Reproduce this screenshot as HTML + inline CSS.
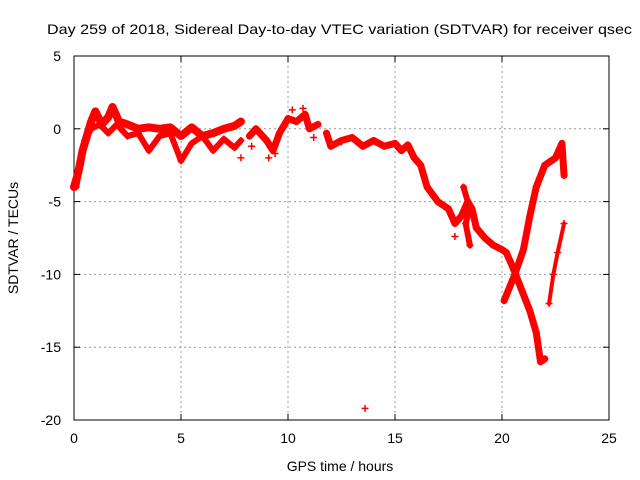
<!DOCTYPE html>
<html><head><meta charset="utf-8"><style>
body{margin:0;background:#fff}
svg{display:block;font-family:"Liberation Sans",sans-serif}
</style></head><body>
<svg id="chart" width="640" height="480" viewBox="0 0 640 480">
<rect width="640" height="480" fill="#fff"/>
<text x="47" y="34" font-size="14" textLength="585" lengthAdjust="spacingAndGlyphs">Day 259 of 2018, Sidereal Day-to-day VTEC variation (SDTVAR) for receiver qsec</text>
<g id="grid"></g><g id="axes"></g><g id="marks"></g>
<text x="340" y="471" font-size="14" text-anchor="middle">GPS time / hours</text>
<text transform="translate(18,238) rotate(-90)" font-size="14" text-anchor="middle">SDTVAR / TECUs</text>
</svg>
<script>
const xTicks=[0,5,10,15,20,25];
const yTicks=[5,0,-5,-10,-15,-20];
const trackAT=[0,0.2,0.4,0.6,0.8,1.0,1.3,1.6,1.8,2.1,2.5,3,3.5,4,4.5,5,5.5,6,6.5,7,7.5,7.8];
const trackAV=[-4,-3,-1.5,-0.5,0.5,1.2,0.3,0.8,1.5,0.5,0.3,0,0.1,0,0.1,-0.5,0.1,-0.5,-0.3,0,0.2,0.5];
const trackBT=[0.1,0.3,0.5,0.8,1.2,1.6,2,2.5,3,3.5,4,4.5,5,5.5,6,6.5,7,7.5,7.8];
const trackBV=[-4,-2.5,-0.8,0,0.3,-0.3,0.3,-0.5,-0.3,-1.5,-0.5,-0.3,-2.2,-1,-0.5,-1.5,-0.7,-1.3,-0.8];
const trackCT=[8.2,8.5,9,9.3,9.6,10,10.4,10.8,11,11.4];
const trackCV=[-0.5,0,-0.8,-1.5,-0.3,0.7,0.5,1,0,0.3];
const trackDT=[11.8,12,12.5,13,13.5,14,14.5,15,15.3,15.6,15.9,16.2,16.5,17,17.5,17.8,18.1,18.4,18.6,18.8,19.2,19.6,20,20.2,20.5,20.9,21.3,21.6,21.8,22];
const trackDV=[-0.3,-1.2,-0.8,-0.6,-1.2,-0.8,-1.2,-1.0,-1.5,-1.1,-2,-2.5,-4,-5,-5.5,-6.5,-6,-5,-5.5,-6.8,-7.5,-8,-8.3,-8.5,-9.5,-11,-12.5,-14,-16,-15.8];
const trackET=[18.2,18.5,18.3,18.5];
const trackEV=[-4,-5.5,-6.5,-8];
const trackFT=[20.1,20.6,21,21.3,21.6,22,22.5,22.8,22.9];
const trackFV=[-11.8,-10,-8.3,-6,-4,-2.5,-2,-1,-3.2];
const trackGT=[22.2,22.4,22.6,22.9];
const trackGV=[-12,-10,-8.5,-6.5];
const scatterT=[7.8,8.3,9.1,9.4,10.2,10.7,11.2,13.6,17.8,12.5];
const scatterV=[-2,-1.2,-2,-1.7,1.3,1.4,-0.6,-19.2,-7.4,-0.9];
const X0=74,X1=609,Y0=420,Y1=56;
const sx=t=>X0+(t-0)/25*(X1-X0);
const sy=v=>Y0-(v+20)/25*(Y0-Y1);
const NS="http://www.w3.org/2000/svg";
function mk(tag,attrs,parent){const e=document.createElementNS(NS,tag);for(const k in attrs)e.setAttribute(k,attrs[k]);parent.appendChild(e);return e;}
const grid=document.getElementById('grid'),axes=document.getElementById('axes'),marks=document.getElementById('marks');
xTicks.forEach(t=>{
  if(t>0&&t<25){const g=mk('line',{x1:sx(t),x2:sx(t),y1:Y1,y2:Y0,stroke:'#999','stroke-dasharray':'2,3'},grid);
  
  }
  const l=mk('text',{x:sx(t),y:Y0+23,'font-size':14,'text-anchor':'middle'},axes);l.textContent=t;
  
  
  mk('line',{x1:sx(t),x2:sx(t),y1:Y0,y2:Y0-6,stroke:'#000'},axes);
  mk('line',{x1:sx(t),x2:sx(t),y1:Y1,y2:Y1+6,stroke:'#000'},axes);
});
yTicks.forEach(v=>{
  if(v<5&&v>-20){const g=mk('line',{x1:X0,x2:X1,y1:sy(v),y2:sy(v),stroke:'#999','stroke-dasharray':'2,3'},grid);
  
  }
  const l=mk('text',{x:X0-13,y:sy(v)+5,'font-size':14,'text-anchor':'end'},axes);l.textContent=v;
  
  
  mk('line',{x1:X0,x2:X0+6,y1:sy(v),y2:sy(v),stroke:'#000'},axes);
  mk('line',{x1:X1,x2:X1-6,y1:sy(v),y2:sy(v),stroke:'#000'},axes);
});
const fr=mk('rect',{x:X0,y:Y1,width:X1-X0,height:Y0-Y1,fill:'none',stroke:'#000'},axes);


function plus(t,v){const x=sx(t),y=sy(v);mk('path',{d:`M${x-3.5},${y}h7M${x},${y-3.5}v7`,stroke:'#f00','stroke-width':1.5},marks);}
function track(T,V,w,name){
  const p=mk('polyline',{points:T.map((t,i)=>sx(t)+','+sy(V[i])).join(' '),fill:'none',stroke:'#f00','stroke-width':w,'stroke-linejoin':'round','stroke-linecap':'round'},marks);
  
  
  T.forEach((t,i)=>plus(t,V[i]));
}
track(trackAT,trackAV,8,'track-a');
track(trackBT,trackBV,6,'track-b');
track(trackCT,trackCV,7,'track-c');
track(trackDT,trackDV,7,'track-d');
track(trackET,trackEV,6,'track-e');
track(trackFT,trackFV,7,'track-f');
track(trackGT,trackGV,4,'track-g');
scatterT.forEach((t,i)=>plus(t,scatterV[i]));
</script>
</body></html>
